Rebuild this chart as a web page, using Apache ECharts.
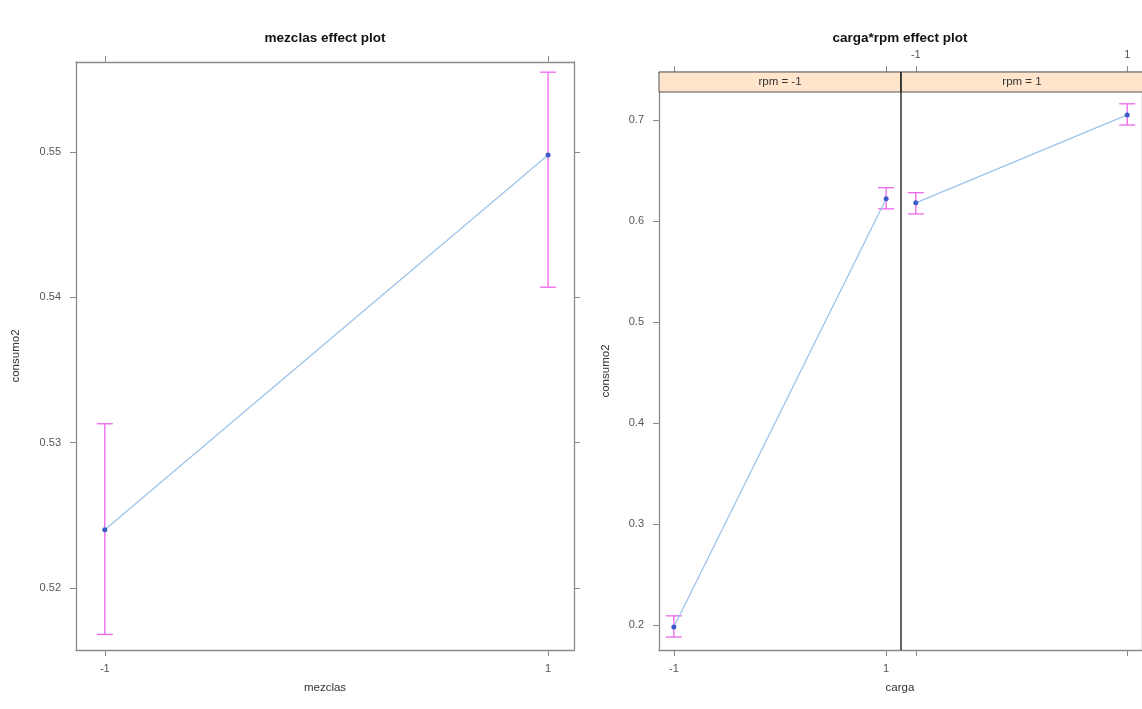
<!DOCTYPE html>
<html>
<head>
<meta charset="utf-8">
<script src="https://cdn.jsdelivr.net/npm/echarts@6/dist/echarts.min.js"></script>
<style>
html,body{margin:0;padding:0;background:#fff;}
#chart{width:1142px;height:709px;}
</style>
</head>
<body>
<div id="chart"></div>
<script>
// ---- data ----
const mezclasLevels = [-1, 1];
const mezclasFit = [0.5240, 0.5498];
const mezclasLower = [0.5168, 0.5407];
const mezclasUpper = [0.5313, 0.5555];

const cargaLevels = [-1, 1];
const rpmNeg1Fit = [0.198, 0.622];
const rpmNeg1Lower = [0.188, 0.612];
const rpmNeg1Upper = [0.209, 0.633];
const rpmPos1Fit = [0.618, 0.705];
const rpmPos1Lower = [0.607, 0.695];
const rpmPos1Upper = [0.628, 0.716];

const leftYTicks = [0.52, 0.53, 0.54, 0.55];
const rightYTicks = [0.2, 0.3, 0.4, 0.5, 0.6, 0.7];
const xTicks = [-1, 1];
const stripLabels = ['rpm = -1', 'rpm = 1'];
const titles = ['mezclas effect plot', 'carga*rpm effect plot'];
const axisNames = ['mezclas', 'carga', 'consumo2'];

// ---- styling ----
const FONT = 'Liberation Sans, Arial, sans-serif';
const FRAME = '#8a8a8a';
const LBL = '#555';
const LINE_C = '#9ec4ea';
const PT_C = '#3b5cc8';
const CI_C = '#ee66ee';

const chart = echarts.init(document.getElementById('chart'), null, {renderer: 'canvas'});

function pairs(xs, ys) { return xs.map((x, i) => [x, ys[i]]); }
function ciData(xs, lo, hi) { return xs.map((x, i) => [x, lo[i], hi[i]]); }

function errRender(params, api) {
  const x = api.value(0), lo = api.value(1), hi = api.value(2);
  const a = api.coord([x, lo]);
  const b = api.coord([x, hi]);
  const w = 8;
  const st = {stroke: CI_C, lineWidth: 1.3};
  return {
    type: 'group',
    children: [
      {type: 'line', shape: {x1: a[0], y1: a[1], x2: b[0], y2: b[1]}, style: st},
      {type: 'line', shape: {x1: a[0] - w, y1: a[1], x2: a[0] + w, y2: a[1]}, style: st},
      {type: 'line', shape: {x1: b[0] - w, y1: b[1], x2: b[0] + w, y2: b[1]}, style: st}
    ]
  };
}

const tickStyle = {show: true, length: 6, lineStyle: {color: FRAME}};
const lineStyleFrame = {show: true, onZero: false, lineStyle: {color: FRAME, width: 1.3}};
const labelStyle = {color: LBL, fontSize: 11, fontFamily: FONT};

function xAx(grid, pos, showLabels, min, max, extra) {
  return Object.assign({
    type: 'value', gridIndex: grid, position: pos, min: min, max: max,
    axisLine: lineStyleFrame,
    axisTick: Object.assign({}, tickStyle, {customValues: xTicks}),
    axisLabel: Object.assign({}, labelStyle, {show: showLabels, customValues: xTicks, margin: 13}),
    splitLine: {show: false}
  }, extra || {});
}
function yAx(grid, pos, showLabels, min, max, ticks, digits, extra) {
  return Object.assign({
    type: 'value', gridIndex: grid, position: pos, min: min, max: max,
    axisLine: lineStyleFrame,
    axisTick: Object.assign({}, tickStyle, {customValues: ticks}),
    axisLabel: Object.assign({}, labelStyle, {show: showLabels, customValues: ticks, margin: 15,
      formatter: v => Number(v).toFixed(digits)}),
    splitLine: {show: false}
  }, extra || {});
}

const L = {min: -1.13, max: 1.117};
const R = {min: -1.14, max: 1.14};
const LY = {min: 0.51573, max: 0.5562};
const RY = {min: 0.1752, max: 0.7277};

const nameStyle = {color: '#333', fontSize: 11.5, fontFamily: FONT};

const option = {
  animation: false,
  backgroundColor: '#fff',
  grid: [
    {left: 76, top: 62, width: 498, height: 588},
    {left: 659, top: 92, width: 242, height: 558},
    {left: 901, top: 92, width: 242, height: 558}
  ],
  xAxis: [
    xAx(0, 'bottom', true, L.min, L.max, {name: axisNames[0], nameLocation: 'middle', nameGap: 32, nameTextStyle: nameStyle}),
    xAx(0, 'top', false, L.min, L.max),
    xAx(1, 'bottom', true, R.min, R.max),
    xAx(1, 'top', false, R.min, R.max, {offset: 20}),
    xAx(2, 'bottom', false, R.min, R.max),
    xAx(2, 'top', true, R.min, R.max, {offset: 20, axisLabel: Object.assign({}, labelStyle, {show: true, customValues: xTicks, margin: 12})})
  ],
  yAxis: [
    yAx(0, 'left', true, LY.min, LY.max, leftYTicks, 2, {name: axisNames[2], nameLocation: 'middle', nameGap: 54, nameTextStyle: nameStyle}),
    yAx(0, 'right', false, LY.min, LY.max, leftYTicks, 2),
    yAx(1, 'left', true, RY.min, RY.max, rightYTicks, 1, {name: axisNames[2], nameLocation: 'middle', nameGap: 47, nameTextStyle: nameStyle}),
    yAx(2, 'left', false, RY.min, RY.max, rightYTicks, 1, {axisLine: {show: false}, axisTick: {show: false}}),
    yAx(2, 'right', false, RY.min, RY.max, rightYTicks, 1)
  ],
  series: [
    {type: 'custom', xAxisIndex: 0, yAxisIndex: 0, renderItem: errRender, data: ciData(mezclasLevels, mezclasLower, mezclasUpper), encode: {x: 0, y: [1, 2]}, z: 2},
    {type: 'line', xAxisIndex: 0, yAxisIndex: 0, data: pairs(mezclasLevels, mezclasFit), lineStyle: {color: LINE_C, width: 1.3}, symbol: 'circle', symbolSize: 5, itemStyle: {color: PT_C}, z: 3},
    {type: 'custom', xAxisIndex: 2, yAxisIndex: 2, renderItem: errRender, data: ciData(cargaLevels, rpmNeg1Lower, rpmNeg1Upper), encode: {x: 0, y: [1, 2]}, z: 2},
    {type: 'line', xAxisIndex: 2, yAxisIndex: 2, data: pairs(cargaLevels, rpmNeg1Fit), lineStyle: {color: LINE_C, width: 1.3}, symbol: 'circle', symbolSize: 5, itemStyle: {color: PT_C}, z: 3},
    {type: 'custom', xAxisIndex: 4, yAxisIndex: 3, renderItem: errRender, data: ciData(cargaLevels, rpmPos1Lower, rpmPos1Upper), encode: {x: 0, y: [1, 2]}, z: 2},
    {type: 'line', xAxisIndex: 4, yAxisIndex: 3, data: pairs(cargaLevels, rpmPos1Fit), lineStyle: {color: LINE_C, width: 1.3}, symbol: 'circle', symbolSize: 5, itemStyle: {color: PT_C}, z: 3}
  ],
  graphic: [
    {type: 'text', x: 325, y: 38, style: {text: titles[0], fill: '#111', font: 'bold 13.5px ' + FONT, align: 'center', verticalAlign: 'middle'}},
    {type: 'text', x: 900, y: 38, style: {text: titles[1], fill: '#111', font: 'bold 13.5px ' + FONT, align: 'center', verticalAlign: 'middle'}},
    {type: 'rect', shape: {x: 659, y: 72, width: 242, height: 20}, style: {fill: '#ffe5cc', stroke: '#555', lineWidth: 1}, z: 10},
    {type: 'rect', shape: {x: 901, y: 72, width: 242, height: 20}, style: {fill: '#ffe5cc', stroke: '#555', lineWidth: 1}, z: 10},
    {type: 'line', shape: {x1: 901, y1: 72, x2: 901, y2: 650}, style: {stroke: '#111', lineWidth: 1.3}, z: 11},
    {type: 'text', x: 780, y: 82, style: {text: stripLabels[0], fill: '#333', font: '11.5px ' + FONT, align: 'center', verticalAlign: 'middle'}, z: 12},
    {type: 'text', x: 1022, y: 82, style: {text: stripLabels[1], fill: '#333', font: '11.5px ' + FONT, align: 'center', verticalAlign: 'middle'}, z: 12},
    {type: 'text', x: 900, y: 688, style: {text: axisNames[1], fill: '#333', font: '11.5px ' + FONT, align: 'center', verticalAlign: 'middle'}}
  ]
};
chart.setOption(option);
</script>
</body>
</html>
